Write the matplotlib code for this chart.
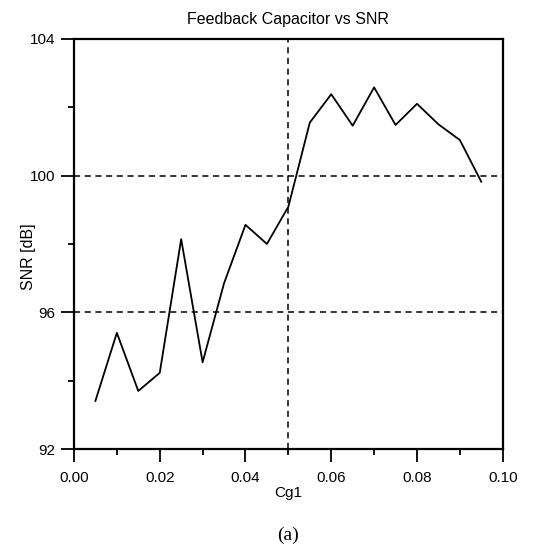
import numpy as np
import matplotlib.pyplot as plt
from matplotlib.ticker import MultipleLocator

# ------------------ DATE ------------------
cg1 = [0.005, 0.010, 0.015, 0.020, 0.025, 0.030, 0.035, 0.040, 0.045, 0.050,
       0.055, 0.060, 0.065, 0.070, 0.075, 0.080, 0.085, 0.090, 0.095]
snr = [93.41, 95.40, 93.70, 94.23, 98.14, 94.54, 96.85, 98.56, 98.00, 99.09,
       101.55, 102.38, 101.46, 102.58, 101.48, 102.10, 101.50, 101.04, 99.82]

grid_y = [100, 96]
grid_x = [0.05]

plt.rcParams['font.family'] = ['Liberation Sans', 'DejaVu Sans']

# ------------------ FIGURA ------------------
fig = plt.figure(figsize=(5.40, 5.47), dpi=100)
ax = fig.add_axes([0.137, 0.179, 0.794, 0.750])

ax.plot(cg1, snr, color="black", lw=1.3)

for gy in grid_y:
    ax.axhline(gy, color="black", lw=1.1, ls=(0, (4, 3)))
for gx in grid_x:
    ax.axvline(gx, color="black", lw=1.1, ls=(0, (4, 3)))

ax.set_xlim(0, 0.10)
ax.set_ylim(92, 104)
ax.xaxis.set_major_locator(MultipleLocator(0.02))
ax.xaxis.set_minor_locator(MultipleLocator(0.01))
ax.yaxis.set_major_locator(MultipleLocator(4))
ax.yaxis.set_minor_locator(MultipleLocator(2))
ax.xaxis.set_major_formatter(plt.FormatStrFormatter("%.2f"))
ax.yaxis.set_major_formatter(plt.FormatStrFormatter("%d"))

ax.tick_params(which="major", direction="out", length=9.5, width=1.3, labelsize=11)
ax.tick_params(axis="x", which="major", pad=6)
ax.tick_params(axis="y", which="major", pad=4)
ax.tick_params(which="minor", direction="out", length=4.5, width=1.3)
for s in ax.spines.values():
    s.set_linewidth(1.6)

ax.set_title("Feedback Capacitor vs SNR", fontsize=11.5, pad=11)
ax.set_xlabel("Cg1", fontsize=11)
ax.set_ylabel("SNR [dB]", fontsize=11.5)
ax.xaxis.set_label_coords(0.5, -0.09)
ax.yaxis.set_label_coords(-0.089, 0.468)

fig.text(0.5 * (0.137 + 0.931), 1 - 535 / 547, "(a)", ha="center", va="center",
         fontsize=14, family=["Liberation Serif", "DejaVu Serif"])

fig.savefig("out.png", dpi=100)
